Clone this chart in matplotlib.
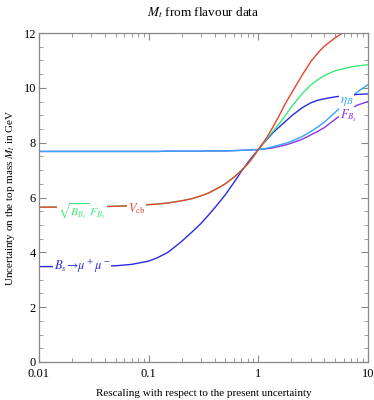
import matplotlib
matplotlib.use('Agg')
import matplotlib.pyplot as plt
from matplotlib.ticker import FixedLocator, LogLocator, MultipleLocator, NullFormatter

plt.rcParams['font.family'] = ['Liberation Serif', 'DejaVu Serif']
plt.rcParams['mathtext.fontset'] = 'stix'

# rescaling factor (x) and top-mass uncertainty (GeV)
x = [0.01, 0.02, 0.03, 0.05, 0.07, 0.1, 0.12, 0.15, 0.18, 0.2, 0.25, 0.3, 0.35, 0.4,
     0.45, 0.5, 0.6, 0.7, 0.8, 0.9, 1.0, 1.1, 1.2, 1.35, 1.5, 1.75, 2.0, 2.5, 3.0,
     3.5, 4.0, 5.0, 6.0, 7.0, 8.0, 10.0]

vcb = [5.65, 5.65, 5.66, 5.68, 5.70, 5.74, 5.76, 5.80, 5.85, 5.88, 5.96, 6.06, 6.16, 6.28,
       6.39, 6.50, 6.74, 6.98, 7.22, 7.48, 7.75, 7.98, 8.20, 8.55, 8.88, 9.40, 9.80, 10.45,
       10.95, 11.28, 11.52, 11.82, 12.03, 12.20, 12.35, 12.55]
bf = [5.65, 5.65, 5.66, 5.68, 5.70, 5.74, 5.76, 5.80, 5.85, 5.88, 5.96, 6.06, 6.16, 6.28,
      6.39, 6.50, 6.74, 6.98, 7.22, 7.48, 7.75, 7.96, 8.15, 8.40, 8.62, 8.97, 9.30, 9.78,
      10.10, 10.30, 10.45, 10.62, 10.70, 10.76, 10.80, 10.84]
bsmumu = [3.48, 3.48, 3.49, 3.51, 3.56, 3.68, 3.80, 4.00, 4.25, 4.40, 4.75, 5.05, 5.35, 5.62,
          5.87, 6.10, 6.55, 6.95, 7.27, 7.53, 7.75, 7.95, 8.12, 8.35, 8.52, 8.76, 8.97, 9.27,
          9.45, 9.55, 9.60, 9.67, 9.71, 9.74, 9.76, 9.78]
etab = [7.68, 7.68, 7.68, 7.68, 7.68, 7.68, 7.68, 7.69, 7.69, 7.69, 7.69, 7.69, 7.70, 7.70,
        7.70, 7.70, 7.71, 7.72, 7.73, 7.74, 7.75, 7.77, 7.80, 7.85, 7.90, 7.97, 8.05, 8.22,
        8.40, 8.58, 8.75, 9.10, 9.40, 9.65, 9.85, 10.12]
fbs = [7.68, 7.68, 7.68, 7.68, 7.68, 7.68, 7.68, 7.69, 7.69, 7.69, 7.69, 7.69, 7.70, 7.70,
       7.70, 7.70, 7.71, 7.72, 7.73, 7.74, 7.75, 7.76, 7.78, 7.81, 7.85, 7.91, 7.98, 8.12,
       8.28, 8.42, 8.55, 8.85, 9.07, 9.25, 9.37, 9.50]

c_red = '#e8432e'
c_green = '#3ee87a'
c_blue = '#2a2ae6'
c_light = '#33a6f5'
c_purple = '#8a35e8'

fig = plt.figure(figsize=(3.74, 4.0), dpi=100)
ax = fig.add_axes([0.104, 0.095, 0.88, 0.8225])

ax.plot(x, fbs, color=c_purple, lw=1.0)
ax.plot(x, etab, color=c_light, lw=1.0)
ax.plot(x, bsmumu, color=c_blue, lw=1.0)
ax.plot(x, bf, color=c_green, lw=1.0)
ax.plot(x, vcb, color=c_red, lw=1.0)

box = dict(facecolor='white', edgecolor='none', pad=0.5)
ax.text(0.078, 5.6, r'$V_{\rm cb}$', color=c_red, fontsize=9, ha='center', va='center', bbox=box, zorder=5)
ax.text(0.0247, 5.52, r'$\sqrt{B_{B_s}}\;F_{B_s}$', color=c_green, fontsize=8.5, ha='center', va='center', bbox=box, zorder=5)
ax.text(0.0247, 3.5, r'$B_s\!\rightarrow\!\mu^+\mu^-$', color=c_blue, fontsize=9, ha='center', va='center', bbox=box, zorder=5)
ax.text(6.4, 9.5, r'$\eta_B$', color=c_light, fontsize=9.5, ha='center', va='center', bbox=box, zorder=5)
ax.text(6.6, 8.98, r'$F_{B_s}$', color=c_purple, fontsize=9, ha='center', va='center', bbox=box, zorder=5)

ax.set_xscale('log')
ax.set_xlim(0.01, 10)
ax.set_ylim(0, 12)
ax.xaxis.set_major_locator(FixedLocator([0.01, 0.1, 1, 10]))
ax.set_xticklabels(['0.01', '0.1', '1', '10'])
ax.xaxis.set_minor_locator(LogLocator(base=10, subs=range(2, 10)))
ax.xaxis.set_minor_formatter(NullFormatter())
ax.yaxis.set_major_locator(MultipleLocator(2))
ax.yaxis.set_minor_locator(MultipleLocator(0.5))

for s in ax.spines.values():
    s.set_color('#888888')
    s.set_linewidth(0.9)
ax.tick_params(which='both', direction='in', top=True, right=True, color='#888888',
               labelsize=9, pad=2)
ax.tick_params(axis='x', which='major', pad=4)
ax.tick_params(which='major', length=5)
ax.tick_params(which='minor', length=3)

ax.set_title(r'$M_t$ from flavour data', fontsize=9.5, pad=12)
ax.set_xlabel('Rescaling with respect to the present uncertainty', fontsize=8, labelpad=7)
ax.set_ylabel(r'Uncertainty on the top mass $M_t$ in GeV', fontsize=8, labelpad=5)

fig.savefig('out.png', dpi=100)
